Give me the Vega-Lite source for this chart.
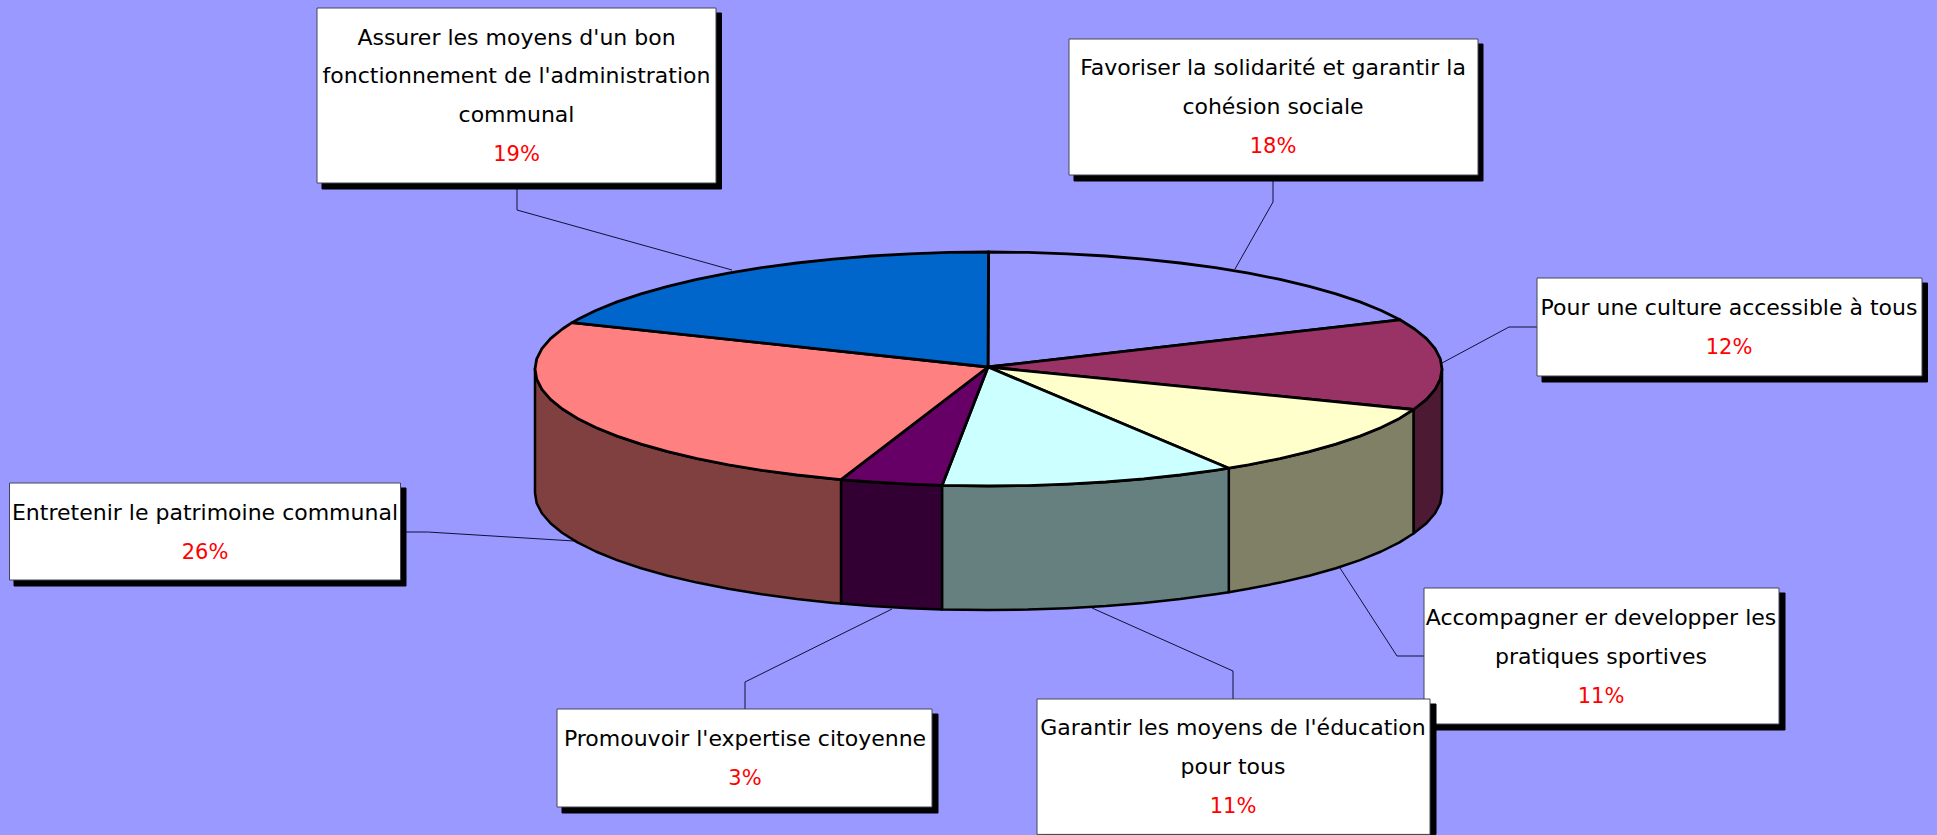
{"$schema":"https://vega.github.io/schema/vega-lite/v6.json","autosize":{"type":"fit","contains":"padding"},"width":1937,"height":835,"padding":0,"background":"#9999FF","view":{"stroke":null},
"datasets":{
"leaders":[
{"k":"a","i":0,"x":517,"y":183},{"k":"a","i":1,"x":517,"y":210},{"k":"a","i":2,"x":732,"y":270},
{"k":"b","i":0,"x":1273,"y":175},{"k":"b","i":1,"x":1273,"y":202},{"k":"b","i":2,"x":1235,"y":269},
{"k":"c","i":0,"x":1537,"y":327},{"k":"c","i":1,"x":1509,"y":327},{"k":"c","i":2,"x":1442,"y":363},
{"k":"d","i":0,"x":1424,"y":656},{"k":"d","i":1,"x":1397,"y":656},{"k":"d","i":2,"x":1340,"y":568},
{"k":"e","i":0,"x":1233,"y":699},{"k":"e","i":1,"x":1233,"y":671},{"k":"e","i":2,"x":1092,"y":608},
{"k":"f","i":0,"x":745,"y":709},{"k":"f","i":1,"x":745,"y":682},{"k":"f","i":2,"x":892,"y":609},
{"k":"g","i":0,"x":401,"y":532},{"k":"g","i":1,"x":427.5,"y":532},{"k":"g","i":2,"x":574,"y":541}],
"sides":[
{"p":"culture side","i":0,"x":1442,"y":369},{"p":"culture side","i":1,"x":1440.3,"y":379.2},{"p":"culture side","i":2,"x":1435.1,"y":389.3},{"p":"culture side","i":3,"x":1426.5,"y":399.3},{"p":"culture side","i":4,"x":1413.5,"y":409.5},{"p":"culture side","i":5,"x":1413.5,"y":533.5},{"p":"culture side","i":6,"x":1426.5,"y":523.3},{"p":"culture side","i":7,"x":1435.1,"y":513.3},{"p":"culture side","i":8,"x":1440.3,"y":503.2},{"p":"culture side","i":9,"x":1442,"y":493},{"p":"culture side","i":10,"x":1442,"y":369},
{"p":"sport side","i":0,"x":1413.5,"y":409.5},{"p":"sport side","i":1,"x":1399.5,"y":418.4},{"p":"sport side","i":2,"x":1381.2,"y":427.5},{"p":"sport side","i":3,"x":1360,"y":436.1},{"p":"sport side","i":4,"x":1335.9,"y":444.2},{"p":"sport side","i":5,"x":1309.2,"y":451.7},{"p":"sport side","i":6,"x":1280,"y":458.6},{"p":"sport side","i":7,"x":1248.6,"y":464.8},{"p":"sport side","i":8,"x":1228.8,"y":468.2},{"p":"sport side","i":9,"x":1228.8,"y":592.2},{"p":"sport side","i":10,"x":1248.6,"y":588.8},{"p":"sport side","i":11,"x":1280,"y":582.6},{"p":"sport side","i":12,"x":1309.2,"y":575.7},{"p":"sport side","i":13,"x":1335.9,"y":568.2},{"p":"sport side","i":14,"x":1360,"y":560.1},{"p":"sport side","i":15,"x":1381.2,"y":551.5},{"p":"sport side","i":16,"x":1399.5,"y":542.4},{"p":"sport side","i":17,"x":1413.5,"y":533.5},{"p":"sport side","i":18,"x":1413.5,"y":409.5},
{"p":"education side","i":0,"x":1228.8,"y":468.2},{"p":"education side","i":1,"x":1215.3,"y":470.3},{"p":"education side","i":2,"x":1180.2,"y":475},{"p":"education side","i":3,"x":1143.6,"y":478.9},{"p":"education side","i":4,"x":1105.9,"y":482},{"p":"education side","i":5,"x":1067.3,"y":484.2},{"p":"education side","i":6,"x":1028,"y":485.6},{"p":"education side","i":7,"x":988.5,"y":486},{"p":"education side","i":8,"x":942,"y":485.4},{"p":"education side","i":9,"x":942,"y":609.4},{"p":"education side","i":10,"x":988.5,"y":610},{"p":"education side","i":11,"x":1028,"y":609.6},{"p":"education side","i":12,"x":1067.3,"y":608.2},{"p":"education side","i":13,"x":1105.9,"y":606},{"p":"education side","i":14,"x":1143.6,"y":602.9},{"p":"education side","i":15,"x":1180.2,"y":599},{"p":"education side","i":16,"x":1215.3,"y":594.3},{"p":"education side","i":17,"x":1228.8,"y":592.2},{"p":"education side","i":18,"x":1228.8,"y":468.2},
{"p":"expertise side","i":0,"x":942,"y":485.4},{"p":"expertise side","i":1,"x":909.7,"y":484.2},{"p":"expertise side","i":2,"x":871.1,"y":482},{"p":"expertise side","i":3,"x":841,"y":479.6},{"p":"expertise side","i":4,"x":841,"y":603.6},{"p":"expertise side","i":5,"x":871.1,"y":606},{"p":"expertise side","i":6,"x":909.7,"y":608.2},{"p":"expertise side","i":7,"x":942,"y":609.4},{"p":"expertise side","i":8,"x":942,"y":485.4},
{"p":"patrimoine side","i":0,"x":841,"y":479.6},{"p":"patrimoine side","i":1,"x":833.4,"y":478.9},{"p":"patrimoine side","i":2,"x":796.8,"y":475},{"p":"patrimoine side","i":3,"x":761.7,"y":470.3},{"p":"patrimoine side","i":4,"x":728.4,"y":464.8},{"p":"patrimoine side","i":5,"x":697,"y":458.6},{"p":"patrimoine side","i":6,"x":667.8,"y":451.7},{"p":"patrimoine side","i":7,"x":641.1,"y":444.2},{"p":"patrimoine side","i":8,"x":617,"y":436.1},{"p":"patrimoine side","i":9,"x":595.8,"y":427.5},{"p":"patrimoine side","i":10,"x":577.5,"y":418.4},{"p":"patrimoine side","i":11,"x":562.4,"y":409},{"p":"patrimoine side","i":12,"x":550.5,"y":399.3},{"p":"patrimoine side","i":13,"x":541.9,"y":389.3},{"p":"patrimoine side","i":14,"x":536.7,"y":379.2},{"p":"patrimoine side","i":15,"x":535,"y":369},{"p":"patrimoine side","i":16,"x":535,"y":493},{"p":"patrimoine side","i":17,"x":536.7,"y":503.2},{"p":"patrimoine side","i":18,"x":541.9,"y":513.3},{"p":"patrimoine side","i":19,"x":550.5,"y":523.3},{"p":"patrimoine side","i":20,"x":562.4,"y":533},{"p":"patrimoine side","i":21,"x":577.5,"y":542.4},{"p":"patrimoine side","i":22,"x":595.8,"y":551.5},{"p":"patrimoine side","i":23,"x":617,"y":560.1},{"p":"patrimoine side","i":24,"x":641.1,"y":568.2},{"p":"patrimoine side","i":25,"x":667.8,"y":575.7},{"p":"patrimoine side","i":26,"x":697,"y":582.6},{"p":"patrimoine side","i":27,"x":728.4,"y":588.8},{"p":"patrimoine side","i":28,"x":761.7,"y":594.3},{"p":"patrimoine side","i":29,"x":796.8,"y":599},{"p":"patrimoine side","i":30,"x":833.4,"y":602.9},{"p":"patrimoine side","i":31,"x":841,"y":603.6},{"p":"patrimoine side","i":32,"x":841,"y":479.6}],
"tops":[
{"p":"solidarite","i":0,"x":988,"y":367},{"p":"solidarite","i":1,"x":988.5,"y":252},{"p":"solidarite","i":2,"x":1028,"y":252.4},{"p":"solidarite","i":3,"x":1067.3,"y":253.8},{"p":"solidarite","i":4,"x":1105.9,"y":256},{"p":"solidarite","i":5,"x":1143.6,"y":259.1},{"p":"solidarite","i":6,"x":1180.2,"y":263},{"p":"solidarite","i":7,"x":1215.3,"y":267.7},{"p":"solidarite","i":8,"x":1248.6,"y":273.2},{"p":"solidarite","i":9,"x":1280,"y":279.4},{"p":"solidarite","i":10,"x":1309.2,"y":286.3},{"p":"solidarite","i":11,"x":1335.9,"y":293.8},{"p":"solidarite","i":12,"x":1360,"y":301.9},{"p":"solidarite","i":13,"x":1381.2,"y":310.5},{"p":"solidarite","i":14,"x":1400,"y":319.8},{"p":"solidarite","i":15,"x":988,"y":367},
{"p":"culture","i":0,"x":988,"y":367},{"p":"culture","i":1,"x":1400,"y":319.8},{"p":"culture","i":2,"x":1414.6,"y":329},{"p":"culture","i":3,"x":1426.5,"y":338.7},{"p":"culture","i":4,"x":1435.1,"y":348.7},{"p":"culture","i":5,"x":1440.3,"y":358.8},{"p":"culture","i":6,"x":1442,"y":369},{"p":"culture","i":7,"x":1440.3,"y":379.2},{"p":"culture","i":8,"x":1435.1,"y":389.3},{"p":"culture","i":9,"x":1426.5,"y":399.3},{"p":"culture","i":10,"x":1413.5,"y":409.5},{"p":"culture","i":11,"x":988,"y":367},
{"p":"sport","i":0,"x":988,"y":367},{"p":"sport","i":1,"x":1413.5,"y":409.5},{"p":"sport","i":2,"x":1399.5,"y":418.4},{"p":"sport","i":3,"x":1381.2,"y":427.5},{"p":"sport","i":4,"x":1360,"y":436.1},{"p":"sport","i":5,"x":1335.9,"y":444.2},{"p":"sport","i":6,"x":1309.2,"y":451.7},{"p":"sport","i":7,"x":1280,"y":458.6},{"p":"sport","i":8,"x":1248.6,"y":464.8},{"p":"sport","i":9,"x":1228.8,"y":468.2},{"p":"sport","i":10,"x":988,"y":367},
{"p":"education","i":0,"x":988,"y":367},{"p":"education","i":1,"x":1228.8,"y":468.2},{"p":"education","i":2,"x":1215.3,"y":470.3},{"p":"education","i":3,"x":1180.2,"y":475},{"p":"education","i":4,"x":1143.6,"y":478.9},{"p":"education","i":5,"x":1105.9,"y":482},{"p":"education","i":6,"x":1067.3,"y":484.2},{"p":"education","i":7,"x":1028,"y":485.6},{"p":"education","i":8,"x":988.5,"y":486},{"p":"education","i":9,"x":942,"y":485.4},{"p":"education","i":10,"x":988,"y":367},
{"p":"expertise","i":0,"x":988,"y":367},{"p":"expertise","i":1,"x":942,"y":485.4},{"p":"expertise","i":2,"x":909.7,"y":484.2},{"p":"expertise","i":3,"x":871.1,"y":482},{"p":"expertise","i":4,"x":841,"y":479.6},{"p":"expertise","i":5,"x":988,"y":367},
{"p":"patrimoine","i":0,"x":988,"y":367},{"p":"patrimoine","i":1,"x":841,"y":479.6},{"p":"patrimoine","i":2,"x":833.4,"y":478.9},{"p":"patrimoine","i":3,"x":796.8,"y":475},{"p":"patrimoine","i":4,"x":761.7,"y":470.3},{"p":"patrimoine","i":5,"x":728.4,"y":464.8},{"p":"patrimoine","i":6,"x":697,"y":458.6},{"p":"patrimoine","i":7,"x":667.8,"y":451.7},{"p":"patrimoine","i":8,"x":641.1,"y":444.2},{"p":"patrimoine","i":9,"x":617,"y":436.1},{"p":"patrimoine","i":10,"x":595.8,"y":427.5},{"p":"patrimoine","i":11,"x":577.5,"y":418.4},{"p":"patrimoine","i":12,"x":562.4,"y":409},{"p":"patrimoine","i":13,"x":550.5,"y":399.3},{"p":"patrimoine","i":14,"x":541.9,"y":389.3},{"p":"patrimoine","i":15,"x":536.7,"y":379.2},{"p":"patrimoine","i":16,"x":535,"y":369},{"p":"patrimoine","i":17,"x":536.7,"y":358.8},{"p":"patrimoine","i":18,"x":541.9,"y":348.7},{"p":"patrimoine","i":19,"x":550.5,"y":338.7},{"p":"patrimoine","i":20,"x":562.4,"y":329},{"p":"patrimoine","i":21,"x":572,"y":322.7},{"p":"patrimoine","i":22,"x":988,"y":367},
{"p":"administration","i":0,"x":988,"y":367},{"p":"administration","i":1,"x":572,"y":322.7},{"p":"administration","i":2,"x":577.5,"y":319.6},{"p":"administration","i":3,"x":595.8,"y":310.5},{"p":"administration","i":4,"x":617,"y":301.9},{"p":"administration","i":5,"x":641.1,"y":293.8},{"p":"administration","i":6,"x":667.8,"y":286.3},{"p":"administration","i":7,"x":697,"y":279.4},{"p":"administration","i":8,"x":728.4,"y":273.2},{"p":"administration","i":9,"x":761.7,"y":267.7},{"p":"administration","i":10,"x":796.8,"y":263},{"p":"administration","i":11,"x":833.4,"y":259.1},{"p":"administration","i":12,"x":871.1,"y":256},{"p":"administration","i":13,"x":909.7,"y":253.8},{"p":"administration","i":14,"x":949,"y":252.4},{"p":"administration","i":15,"x":988.5,"y":252},{"p":"administration","i":16,"x":988,"y":367}],
"boxes":[
{"part":"shadow","x":322,"x2":721.5,"y":13,"y2":189},{"part":"box","x":317,"x2":716,"y":8,"y2":183},
{"part":"shadow","x":1074,"x2":1483,"y":44,"y2":181},{"part":"box","x":1069,"x2":1478,"y":39,"y2":175},
{"part":"shadow","x":1542,"x2":1927.5,"y":283,"y2":382},{"part":"box","x":1537,"x2":1922,"y":278,"y2":376},
{"part":"shadow","x":1429,"x2":1785,"y":593,"y2":730},{"part":"box","x":1424,"x2":1779,"y":588,"y2":724},
{"part":"shadow","x":1042,"x2":1436,"y":704,"y2":834.4},{"part":"box","x":1037,"x2":1430,"y":699,"y2":834.4},
{"part":"shadow","x":562,"x2":938,"y":714,"y2":813},{"part":"box","x":557,"x2":932,"y":709,"y2":807},
{"part":"shadow","x":14,"x2":406,"y":488,"y2":586},{"part":"box","x":9.5,"x2":400.5,"y":483,"y2":580}],
"labels":[
{"t":"Assurer les moyens d'un bon","kind":"label","x":516.5,"y":45},{"t":"fonctionnement de l'administration","kind":"label","x":516.5,"y":83},{"t":"communal","kind":"label","x":516.5,"y":122},{"t":"19%","kind":"value","x":516.5,"y":161},
{"t":"Favoriser la solidarité et garantir la","kind":"label","x":1273,"y":75},{"t":"cohésion sociale","kind":"label","x":1273,"y":114},{"t":"18%","kind":"value","x":1273,"y":153},
{"t":"Pour une culture accessible à tous","kind":"label","x":1729,"y":315},{"t":"12%","kind":"value","x":1729,"y":354},
{"t":"Accompagner er developper les","kind":"label","x":1601,"y":625},{"t":"pratiques sportives","kind":"label","x":1601,"y":664},{"t":"11%","kind":"value","x":1601,"y":703},
{"t":"Garantir les moyens de l'éducation","kind":"label","x":1233,"y":735},{"t":"pour tous","kind":"label","x":1233,"y":774},{"t":"11%","kind":"value","x":1233,"y":813},
{"t":"Promouvoir l'expertise citoyenne","kind":"label","x":745,"y":746},{"t":"3%","kind":"value","x":745,"y":785},
{"t":"Entretenir le patrimoine communal","kind":"label","x":205,"y":520},{"t":"26%","kind":"value","x":205,"y":559}]
},
"encoding":{
"x":{"field":"x","type":"quantitative","scale":{"domain":[0,1937],"nice":false,"zero":false},"axis":null},
"y":{"field":"y","type":"quantitative","scale":{"domain":[835,0],"nice":false,"zero":false},"axis":null}},
"layer":[
{"data":{"name":"leaders"},"mark":{"type":"line","color":"#111133","strokeWidth":1},"encoding":{"detail":{"field":"k"},"order":{"field":"i"}}},
{"data":{"name":"sides"},"mark":{"type":"line","filled":true,"stroke":"#000000","strokeWidth":2.5,"strokeJoin":"round"},"encoding":{"order":{"field":"i"},"color":{"field":"p","type":"nominal","legend":null,"scale":{"domain":["culture side","sport side","education side","expertise side","patrimoine side"],"range":["#4D1A33","#808066","#668080","#330033","#804040"]}}}},
{"data":{"name":"tops"},"mark":{"type":"line","filled":true,"stroke":"#000000","strokeWidth":2.8,"strokeJoin":"round"},"encoding":{"order":{"field":"i"},"color":{"field":"p","type":"nominal","legend":null,"scale":{"domain":["solidarite","culture","sport","education","expertise","patrimoine","administration"],"range":["#9999FF","#993366","#FFFFCC","#CCFFFF","#660066","#FF8080","#0066CC"]}}}},
{"data":{"name":"boxes"},"mark":{"type":"rect","strokeWidth":1},"encoding":{"x2":{"field":"x2"},"y2":{"field":"y2"},"fill":{"field":"part","type":"nominal","legend":null,"scale":{"domain":["shadow","box"],"range":["#000000","#FFFFFF"]}},"stroke":{"field":"part","type":"nominal","legend":null,"scale":{"domain":["shadow","box"],"range":["#000000","#444455"]}}}},
{"data":{"name":"labels"},"transform":[{"filter":"datum.kind === 'label'"}],"mark":{"type":"text","align":"center","baseline":"alphabetic","font":"DejaVu Sans","fontSize":22,"color":"#000000"},"encoding":{"text":{"field":"t"}}},
{"data":{"name":"labels"},"transform":[{"filter":"datum.kind === 'value'"}],"mark":{"type":"text","align":"center","baseline":"alphabetic","font":"DejaVu Sans","fontSize":21,"color":"#FF0000"},"encoding":{"text":{"field":"t"}}}
],
"resolve":{"scale":{"color":"independent","fill":"independent","stroke":"independent"}},
"config":{"style":{"cell":{"stroke":null}}}}
